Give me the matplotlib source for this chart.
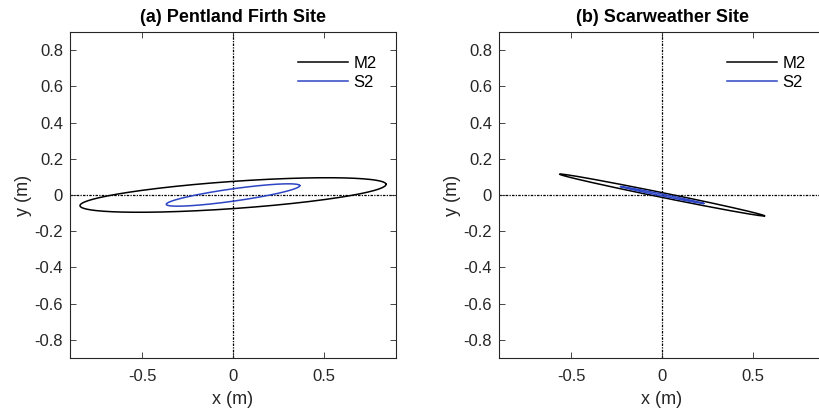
import numpy as np
import matplotlib
matplotlib.use('Agg')
import matplotlib.pyplot as plt

plt.rcParams['font.family'] = ['Liberation Sans', 'DejaVu Sans']

# tidal ellipse parameters per site: semi-major, semi-minor (m), inclination (deg)
sites = ['(a) Pentland Firth Site', '(b) Scarweather Site']
constituents = ['M2', 'S2']
semi_major = {'M2': [0.847, 0.577], 'S2': [0.372, 0.235]}
semi_minor = {'M2': [0.075, 0.013], 'S2': [0.034, 0.005]}
inclination = {'M2': [4.0, -11.5], 'S2': [8.0, -11.5]}
colours = {'M2': 'black', 'S2': '#2d45c4'}

xticks = [-0.5, 0, 0.5]
xticklabels = ['-0.5', '0', '0.5']
yticks = [-0.8, -0.6, -0.4, -0.2, 0, 0.2, 0.4, 0.6, 0.8]
yticklabels = ['-0.8', '-0.6', '-0.4', '-0.2', '0', '0.2', '0.4', '0.6', '0.8']


def ellipse(a, b, inc_deg, n=400):
  t = np.linspace(0, 2 * np.pi, n)
  th = np.deg2rad(inc_deg)
  x = a * np.cos(th) * np.cos(t) - b * np.sin(th) * np.sin(t)
  y = a * np.sin(th) * np.cos(t) + b * np.cos(th) * np.sin(t)
  return x, y


W, H = 819, 416
fig = plt.figure(figsize=(W / 100, H / 100), dpi=100)
lefts = [70, 499]
txt = '#262626'

for i, site in enumerate(sites):
  ax = fig.add_axes([lefts[i] / W, 58 / H, 326 / W, 326 / H])
  # zero axes as fine dash-dot lines
  ax.axhline(0, color='black', lw=0.9, ls=(0, (2, 1, 1, 1)), zorder=1)
  ax.axvline(0, color='black', lw=0.9, ls=(0, (2, 1, 1, 1)), zorder=1)
  for c in constituents:
    x, y = ellipse(semi_major[c][i], semi_minor[c][i], inclination[c][i])
    ax.plot(x, y, color=colours[c], lw=1.1, label=c, zorder=2)

  ax.set_xlim(-0.9, 0.9)
  ax.set_ylim(-0.9, 0.9)
  ax.set_xticks(xticks)
  ax.set_xticklabels(xticklabels)
  ax.set_yticks(yticks)
  ax.set_yticklabels(yticklabels)
  ax.tick_params(direction='in', length=4, width=0.6, top=True, right=True,
                 labelsize=12, labelcolor=txt, color=txt)
  ax.tick_params(axis='y', pad=5)
  ax.tick_params(axis='x', pad=8)
  for s in ax.spines.values():
    s.set_linewidth(0.8)
    s.set_color(txt)

  ax.set_xlabel('x (m)', fontsize=13, color=txt, labelpad=5)
  ax.set_ylabel('y (m)', fontsize=13, color=txt, labelpad=2)
  ax.set_title(site, fontsize=13, fontweight='bold', color='black', pad=7)
  ax.legend(loc='upper right', bbox_to_anchor=(0.962, 0.948), frameon=False,
            fontsize=12, handlelength=3.0, handletextpad=0.36,
            labelspacing=0.25, borderaxespad=0)

fig.savefig('out.png', dpi=100)
